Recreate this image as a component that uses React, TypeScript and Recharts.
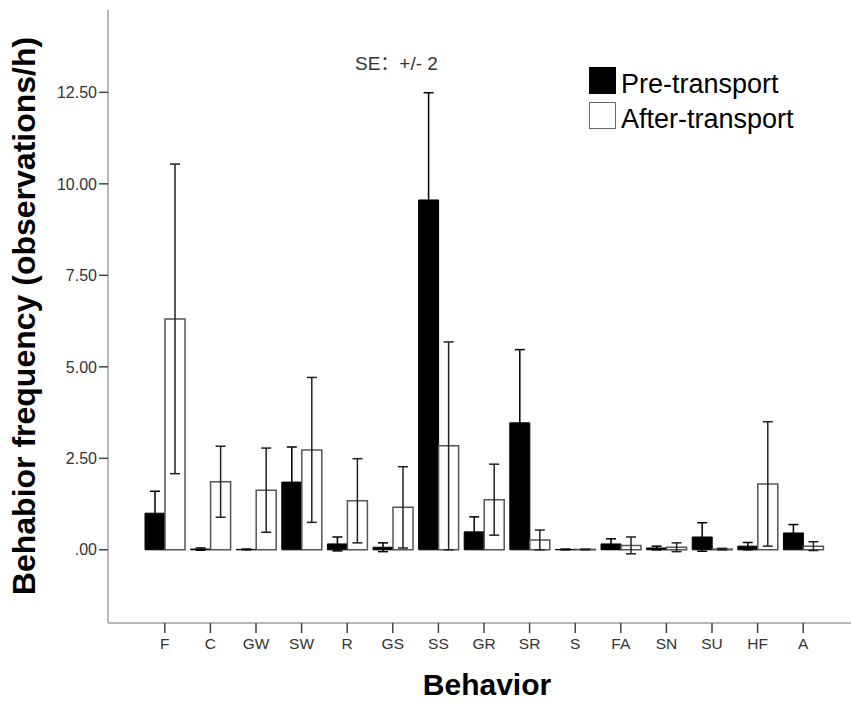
import { BarChart, Bar, XAxis, YAxis, ErrorBar, Legend, Label } from "recharts";

const categories = ["F", "C", "GW", "SW", "R", "GS", "SS", "GR", "SR", "S", "FA", "SN", "SU", "HF", "A"];
const preMean = [1.0, 0.02, 0.01, 1.85, 0.16, 0.07, 9.56, 0.49, 3.47, 0.01, 0.16, 0.05, 0.35, 0.1, 0.46];
const preErr = [0.6, 0.03, 0.01, 0.96, 0.19, 0.12, 2.93, 0.41, 2.0, 0.01, 0.14, 0.05, 0.39, 0.1, 0.23];
const afterMean = [6.31, 1.86, 1.63, 2.73, 1.34, 1.16, 2.84, 1.37, 0.27, 0.01, 0.12, 0.07, 0.02, 1.8, 0.1];
const afterErr = [4.23, 0.97, 1.15, 1.98, 1.15, 1.11, 2.84, 0.97, 0.27, 0.01, 0.23, 0.12, 0.02, 1.7, 0.12];
const yTicks = [0, 2.5, 5, 7.5, 10, 12.5];

const data = categories.map((cat, i) => ({
  cat,
  pre: preMean[i],
  preErr: preErr[i],
  after: afterMean[i],
  afterErr: afterErr[i],
}));

const FONT = '"Liberation Sans", Arial, "Noto Sans CJK SC", sans-serif';

function LegendBox() {
  const row = (fill: string, border: string, text: string) => (
    <div style={{ display: "flex", alignItems: "flex-start", height: 35 }}>
      <div style={{ width: 27, height: 27, background: fill, boxSizing: "border-box", border: `1.5px solid ${border}` }} />
      <span style={{ marginLeft: 5, fontSize: 27, lineHeight: "35px", color: "#000" }}>{text}</span>
    </div>
  );
  return (
    <div style={{ fontFamily: FONT }}>
      {row("#000", "#000", "Pre-transport")}
      {row("#fff", "#666", "After-transport")}
    </div>
  );
}

export default function App() {
  return (
    <div style={{ position: "absolute", left: 0, top: 0, width: 851, height: 702, fontFamily: FONT }}>
      <BarChart
        width={851}
        height={702}
        data={data}
        margin={{ top: 10, right: 0, bottom: 0, left: 0 }}
        barGap={0}
        barSize={20}
      >
        <XAxis
          dataKey="cat"
          height={79}
          padding={{ left: 34, right: 25 }}
          axisLine={{ stroke: "#b8b8b8", strokeWidth: 2 }}
          tickLine={{ stroke: "#444", strokeWidth: 1.5 }}
          tickSize={10}
          tickMargin={5}
          tick={{ fill: "#333", fontSize: 15.5, fontFamily: FONT }}
          interval={0}
        >
          <Label
            content={() => (
              <text x={487} y={695} textAnchor="middle" fontSize={30} fontWeight="bold" fontFamily={FONT} fill="#000">
                Behavior
              </text>
            )}
          />
        </XAxis>
        <YAxis
          width={108}
          domain={[-2, 14.75]}
          ticks={yTicks}
          allowDataOverflow
          axisLine={{ stroke: "#b8b8b8", strokeWidth: 2 }}
          tickLine={{ stroke: "#444", strokeWidth: 1.5 }}
          tickSize={9}
          tickMargin={2}
          tick={{ fill: "#333", fontSize: 16, fontFamily: FONT }}
          tickFormatter={(v: number) => (v === 0 ? ".00" : v.toFixed(2))}
        >
          <Label
            content={() => (
              <text
                x={35}
                y={316}
                transform="rotate(-90 35 316)"
                textAnchor="middle"
                fontSize={32}
                fontWeight="bold"
                fontFamily={FONT}
                fill="#000"
              >
                Behabior frequency (observations/h)
              </text>
            )}
          />
        </YAxis>
        <Legend
          layout="horizontal"
          align="center"
          verticalAlign="middle"
          wrapperStyle={{ left: 589, top: 67, width: 260 }}
          content={() => <LegendBox />}
        />
        <Bar dataKey="pre" name="Pre-transport" fill="#000" stroke="#000" strokeWidth={1} isAnimationActive={false}>
          <ErrorBar dataKey="preErr" width={5} stroke="#000" strokeWidth={1.5} />
        </Bar>
        <Bar dataKey="after" name="After-transport" fill="#fff" stroke="#555" strokeWidth={1.5} isAnimationActive={false}>
          <ErrorBar dataKey="afterErr" width={5} stroke="#222" strokeWidth={1.5} />
        </Bar>
      </BarChart>
      <div
        style={{
          position: "absolute",
          left: 355,
          top: 54,
          fontSize: 19,
          lineHeight: "19px",
          color: "#333",
          fontFamily: FONT,
          whiteSpace: "pre",
        }}
      >
        SE：+/- 2
      </div>
    </div>
  );
}
